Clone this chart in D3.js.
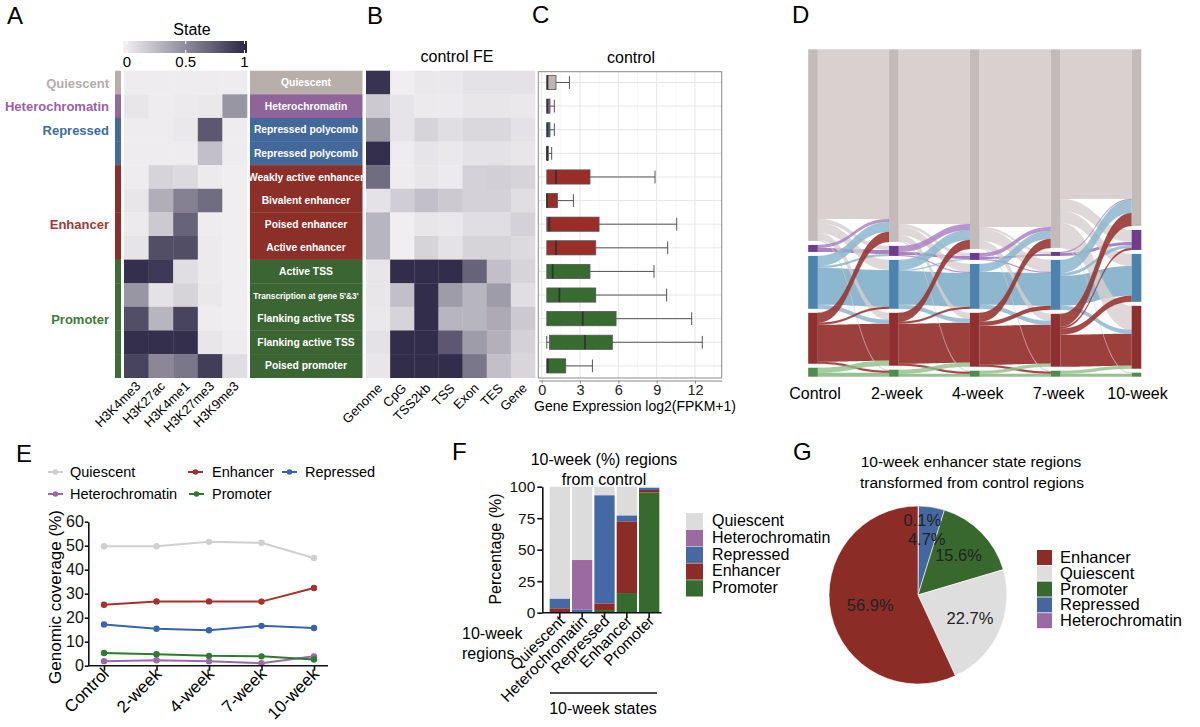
<!DOCTYPE html>
<html><head><meta charset="utf-8">
<script src="https://cdn.jsdelivr.net/npm/d3@7/dist/d3.min.js"></script>
<style>
body{margin:0;background:#fff;}
svg{display:block;font-family:"Liberation Sans",Arial,sans-serif;}
</style>
</head><body>
<svg id="c" width="1200" height="727"></svg>
<script>
// ---------------- DATA ----------------
const groups = ["Quiescent","Heterochromatin","Repressed","Enhancer","Promoter"];
const histoneMarks = ["H3K4me3","H3K27ac","H3K4me1","H3K27me3","H3K9me3"];
const stateNames = ["Quiescent","Heterochromatin","Repressed polycomb","Repressed polycomb",
  "Weakly active enhancer","Bivalent enhancer","Poised enhancer","Active enhancer",
  "Active TSS","Transcription at gene 5'&3'","Flanking active TSS","Flanking active TSS","Poised promoter"];
const stateGroup = [0,1,2,2,3,3,3,3,4,4,4,4,4];
const groupLabelRow = [0,1,2,6,10];
const emissions = [
  [0.03,0.03,0.03,0.03,0.03],
  [0.06,0.03,0.04,0.05,0.45],
  [0.03,0.03,0.05,0.75,0.03],
  [0.03,0.03,0.03,0.25,0.03],
  [0.03,0.15,0.12,0.04,0.02],
  [0.06,0.33,0.55,0.65,0.02],
  [0.04,0.20,0.70,0.03,0.02],
  [0.07,0.80,0.80,0.04,0.02],
  [0.95,0.90,0.10,0.04,0.02],
  [0.45,0.08,0.15,0.05,0.02],
  [0.80,0.30,0.85,0.03,0.02],
  [0.95,0.95,0.95,0.06,0.03],
  [0.85,0.52,0.60,0.88,0.10]
];
const colorbarTicks = [0,0.5,1];
const featureNames = ["Genome","CpG","TSS2kb","TSS","Exon","TES","Gene"];
const foldEnrichment = [
  [0.93,0.02,0.05,0.05,0.08,0.08,0.08],
  [0.20,0.07,0.04,0.04,0.06,0.06,0.05],
  [0.45,0.07,0.15,0.10,0.13,0.13,0.08],
  [0.95,0.03,0.07,0.05,0.08,0.08,0.06],
  [0.65,0.03,0.06,0.04,0.16,0.17,0.15],
  [0.08,0.18,0.25,0.20,0.16,0.16,0.10],
  [0.30,0.02,0.06,0.05,0.10,0.10,0.16],
  [0.30,0.02,0.15,0.08,0.15,0.15,0.12],
  [0.06,0.96,0.96,0.96,0.70,0.25,0.15],
  [0.06,0.25,0.96,0.42,0.30,0.42,0.10],
  [0.05,0.15,0.96,0.30,0.30,0.35,0.20],
  [0.08,0.96,0.96,0.75,0.42,0.32,0.16],
  [0.06,0.96,0.96,0.96,0.60,0.25,0.14]
];
const exprLow    = [0.4,0.4,0.4,0.4,0.4,0.4,0.4,0.4,0.4,0.4,0.4,0.4,0.4];
const exprQ1     = [0.4,0.4,0.4,0.4,0.4,0.4,0.4,0.4,0.4,0.4,0.4,0.62,0.4];
const exprMedian = [0.45,0.45,0.45,0.42,1.12,0.42,0.6,1.12,0.86,1.38,3.21,3.39,0.47];
const exprQ3     = [1.12,0.65,0.65,0.52,3.78,1.23,4.49,4.23,3.78,4.23,5.82,5.53,1.88];
const exprHigh   = [2.17,0.99,0.99,0.78,8.87,2.48,10.57,9.86,8.79,9.78,11.74,12.57,3.97];
const exprTicks  = [0,3,6,9,12];

const timepoints = ["Control","2-week","4-week","7-week","10-week"];
// transitions[k][source][target], states ordered as groups
const transControlTo2wk = [
  [170,4,10,7,1],[3,4,0,0,0],[10,2,37,4,0],[10,0,2,37,2],[0,0,0,5,4]];
const trans2wkTo4wk = [
  [175,3,8,6,1],[6,3,1,0,0],[10,1,34,4,0],[9,0,2,40,2],[0,0,0,4,3]];
const trans4wkTo7wk = [
  [178,2,12,7,1],[4,2,1,0,0],[8,0,33,4,0],[9,0,4,39,2],[0,0,0,3,3]];
const trans7wkTo10wk = [
  [150,12,12,24,1],[1,3,0,0,0],[13,3,30,4,0],[13,2,6,32,0],[0,0,0,3,3]];

const covQuiescent       = [49.8,49.8,51.6,51.2,44.9];
const covEnhancer        = [25.4,26.8,26.8,26.7,32.4];
const covRepressed       = [17.2,15.4,14.8,16.6,15.7];
const covHeterochromatin = [1.9,2.3,1.9,1.0,3.9];
const covPromoter        = [5.3,4.8,4.1,3.9,2.6];
const covTicks = [0,10,20,30,40,50,60];

const tenWeekStates = ["Quiescent","Heterochromatin","Repressed","Enhancer","Promoter"];
const fromPromoter        = [0.5,0.3,2.1,15.6,95.5];
const fromEnhancer        = [3.0,0.3,5.3,56.9,1.9];
const fromRepressed       = [7.5,2.0,85.7,4.7,1.8];
const fromHeterochromatin = [0.3,39.2,0.3,0.1,0.1];
const fromQuiescent       = [88.7,58.2,6.6,22.7,0.7];
const pctTicks = [0,25,50,75,100];

const pieStates = ["Heterochromatin","Repressed","Promoter","Quiescent","Enhancer"];
const pieValues = [0.1,4.7,15.6,22.7,56.9];
const pieLegend = ["Enhancer","Quiescent","Promoter","Repressed","Heterochromatin"];

// ---------------- STYLES ----------------
const stripCol  = {Quiescent:"#b7aeab",Heterochromatin:"#94679f",Repressed:"#4369a0",Enhancer:"#8e2d28",Promoter:"#3b6d35"};
const boxCol    = {Quiescent:"#b8afab",Heterochromatin:"#8f6499",Repressed:"#43699b",Enhancer:"#8c2f29",Promoter:"#3c6534"};
const labelCol  = {Quiescent:"#b3adab",Heterochromatin:"#9a5fa6",Repressed:"#3f68a8",Enhancer:"#a13a35",Promoter:"#3f7a3a"};
const exprCol   = {Quiescent:"#bdb5b2",Heterochromatin:"#9b57a8",Repressed:"#3d6aa6",Enhancer:"#9b2d29",Promoter:"#376b30"};
const nodeCol   = {Quiescent:"#c3bbba",Heterochromatin:"#6e3c8c",Repressed:"#4b83ad",Enhancer:"#8f3030",Promoter:"#4f8a4f"};
const flowCol   = {Quiescent:"#d6cfce",Heterochromatin:"#a67cc0",Repressed:"#86b3cb",Enhancer:"#973634",Promoter:"#8fbf8a"};
const lineCol   = {Quiescent:"#cfcfcf",Enhancer:"#a8302c",Repressed:"#3a63ad",Heterochromatin:"#9a6aa8",Promoter:"#2e7a32"};
const barCol    = {Quiescent:"#dcdcdc",Heterochromatin:"#9a6aa0",Repressed:"#4469a4",Enhancer:"#8d2b26",Promoter:"#356b2f"};
const FONT = "Liberation Sans, Arial, sans-serif";

const svg = d3.select("#c");
function txt(x,y,s,size,opts={}){
  const t = svg.append("text").attr("x",x).attr("y",y).attr("font-size",size).text(s);
  for(const k in opts) t.attr(k,opts[k]);
  return t;
}
// panel letters
[["A",7,24],["B",367,24],["C",532,23],["D",792,23],["E",16,462],["F",452,460],["G",793,460]]
  .forEach(([s,x,y])=>txt(x,y,s,24));

// ---------------- PANEL A ----------------
const heat = d3.scaleLinear().domain([0,1]).range(["#f4f2f4","#2a2543"]);
const rowY = d3.scaleBand().domain(d3.range(stateNames.length)).range([70.7,377.7]);
const hx = d3.scaleBand().domain(histoneMarks).range([124,247]);

const defs = svg.append("defs");
const grad = defs.append("linearGradient").attr("id","cb");
d3.range(0,1.01,0.1).forEach(t=>grad.append("stop").attr("offset",t).attr("stop-color",heat(t)));
const cbx = d3.scaleLinear().domain([0,1]).range([127,244.5]);
svg.append("rect").attr("x",123).attr("y",41).attr("width",124).attr("height",12).attr("fill","url(#cb)");
colorbarTicks.forEach(t=>{
  svg.append("line").attr("x1",cbx(t)).attr("x2",cbx(t)).attr("y1",41).attr("y2",44).attr("stroke","#fff").attr("stroke-width",1);
  svg.append("line").attr("x1",cbx(t)).attr("x2",cbx(t)).attr("y1",50).attr("y2",53).attr("stroke","#fff").attr("stroke-width",1);
  txt(cbx(t),67,String(t),15,{"text-anchor":"middle"});
});
txt(192,35,"State",16,{"text-anchor":"middle"});

svg.append("g").selectAll("rect").data(stateGroup).join("rect")
  .attr("x",115).attr("width",6).attr("y",(d,i)=>rowY(i)).attr("height",rowY.bandwidth()+0.3)
  .attr("fill",d=>stripCol[groups[d]]);
groups.forEach((g,gi)=>{
  txt(109,rowY(groupLabelRow[gi])+rowY.bandwidth()/2+5,g,13,
    {"text-anchor":"end","font-weight":"bold",fill:labelCol[g]});
});
const cellsA = [];
emissions.forEach((r,i)=>r.forEach((v,j)=>cellsA.push({i,j,v})));
svg.append("g").selectAll("rect").data(cellsA).join("rect")
  .attr("x",d=>hx(histoneMarks[d.j])).attr("y",d=>rowY(d.i))
  .attr("width",hx.bandwidth()+0.3).attr("height",rowY.bandwidth()+0.3)
  .attr("fill",d=>heat(d.v));
histoneMarks.forEach(m=>{
  svg.append("text").attr("transform",`translate(${hx(m)+hx.bandwidth()/2+5},387) rotate(-45)`)
    .attr("text-anchor","end").attr("font-size",13).text(m);
});
const gBox = svg.append("g");
stateNames.forEach((s,i)=>{
  const g = groups[stateGroup[i]];
  gBox.append("rect").attr("x",250).attr("width",112.5).attr("y",rowY(i)).attr("height",rowY.bandwidth()+0.3).attr("fill",boxCol[g]);
  gBox.append("text").attr("x",306).attr("y",rowY(i)+rowY.bandwidth()/2+3.6)
    .attr("text-anchor","middle").attr("fill","#fff").attr("font-weight","bold")
    .attr("font-size",s.length>24?8.3:10.3).text(s);
});

// ---------------- PANEL B ----------------
const fx = d3.scaleBand().domain(featureNames).range([366,535]);
const cellsB = [];
foldEnrichment.forEach((r,i)=>r.forEach((v,j)=>cellsB.push({i,j,v})));
svg.append("g").selectAll("rect").data(cellsB).join("rect")
  .attr("x",d=>fx(featureNames[d.j])).attr("y",d=>rowY(d.i))
  .attr("width",fx.bandwidth()+0.3).attr("height",rowY.bandwidth()+0.3)
  .attr("fill",d=>heat(d.v));
featureNames.forEach(f=>{
  svg.append("text").attr("transform",`translate(${fx(f)+fx.bandwidth()/2+5},389) rotate(-45)`)
    .attr("text-anchor","end").attr("font-size",13).text(f);
});
txt(457,62,"control FE",16,{"text-anchor":"middle"});

// ---------------- PANEL C ----------------
const ex = d3.scaleLinear().domain([-0.266,14.09]).range([538.3,721.7]);
const cTop = 71.7, cBot = 378;
svg.append("rect").attr("x",538.3).attr("y",cTop).attr("width",183.4).attr("height",cBot-cTop).attr("fill","#fff");
const gGrid = svg.append("g");
d3.range(1.5,14,3).forEach(v=>gGrid.append("line").attr("x1",ex(v)).attr("x2",ex(v)).attr("y1",cTop).attr("y2",cBot).attr("stroke","#f0f0f0").attr("stroke-width",0.6));
exprTicks.forEach(v=>gGrid.append("line").attr("x1",ex(v)).attr("x2",ex(v)).attr("y1",cTop).attr("y2",cBot).attr("stroke","#e6e6e6").attr("stroke-width",1));
stateNames.forEach((s,i)=>gGrid.append("line").attr("x1",538.3).attr("x2",721.7).attr("y1",rowY(i)+rowY.bandwidth()/2).attr("y2",rowY(i)+rowY.bandwidth()/2).attr("stroke","#e6e6e6").attr("stroke-width",1));
const gBoxes = svg.append("g");
const bh = rowY.bandwidth()*0.6;
stateNames.forEach((s,i)=>{
  const cy = rowY(i)+rowY.bandwidth()/2;
  const col = exprCol[groups[stateGroup[i]]];
  gBoxes.append("line").attr("x1",ex(exprQ3[i])).attr("x2",ex(exprHigh[i])).attr("y1",cy).attr("y2",cy).attr("stroke","#555").attr("stroke-width",1);
  gBoxes.append("line").attr("x1",ex(exprHigh[i])).attr("x2",ex(exprHigh[i])).attr("y1",cy-bh*0.45).attr("y2",cy+bh*0.45).attr("stroke","#555").attr("stroke-width",1);
  if(exprLow[i]<exprQ1[i]){
    gBoxes.append("line").attr("x1",ex(exprLow[i])).attr("x2",ex(exprQ1[i])).attr("y1",cy).attr("y2",cy).attr("stroke","#555");
    gBoxes.append("line").attr("x1",ex(exprLow[i])).attr("x2",ex(exprLow[i])).attr("y1",cy-bh*0.45).attr("y2",cy+bh*0.45).attr("stroke","#555");
  }
  gBoxes.append("rect").attr("x",ex(exprQ1[i])).attr("y",cy-bh/2).attr("width",ex(exprQ3[i])-ex(exprQ1[i])).attr("height",bh)
    .attr("fill",col).attr("stroke","#555").attr("stroke-width",0.8);
  gBoxes.append("line").attr("x1",ex(exprMedian[i])).attr("x2",ex(exprMedian[i])).attr("y1",cy-bh/2).attr("y2",cy+bh/2).attr("stroke","#333").attr("stroke-width",1.8);
});
svg.append("rect").attr("x",538.3).attr("y",cTop).attr("width",183.4).attr("height",cBot-cTop).attr("fill","none").attr("stroke","#8a8a8a").attr("stroke-width",1);
const axC = svg.append("g").attr("transform","translate(0,380.5)")
  .call(d3.axisBottom(ex).tickValues(exprTicks).tickSize(3).tickSizeOuter(0).tickPadding(2));
axC.select(".domain").attr("stroke","#888");
axC.selectAll(".tick line").attr("stroke","#888");
axC.selectAll(".tick text").attr("font-size",14.5).attr("fill","#222").attr("font-family",FONT).attr("dy","0.68em");
txt(635,411,"Gene Expression log2(FPKM+1)",14,{"text-anchor":"middle"});
txt(631,63,"control",16,{"text-anchor":"middle"});

// ---------------- PANEL D (alluvial) ----------------
const transitions = [transControlTo2wk,trans2wkTo4wk,trans4wkTo7wk,trans7wkTo10wk];
const tx = d3.scalePoint().domain(timepoints).range([813,1136.5]);
const nodeW = 9.6, gapD = 4, dTop = 49.3, dBot = 376.7;
const nodeSizes = timepoints.map((t,k)=> k===0
  ? transitions[0].map(r=>d3.sum(r))
  : groups.map((g,j)=>d3.sum(transitions[k-1],r=>r[j])));
const totalD = d3.max(nodeSizes,s=>d3.sum(s));
const uy = d3.scaleLinear().domain([0,totalD]).range([0,dBot-dTop-gapD*4]);
const nodeY = nodeSizes.map(s=>{let y=dTop; return s.map(v=>{const y0=y; y+=uy(v)+gapD; return y0;});});
const areaD = d3.area().curve(d3.curveBumpX).x(d=>d.x).y0(d=>d.y0).y1(d=>d.y1);
const gFlows = svg.append("g");
const selfFlows=[], crossFlows=[];
transitions.forEach((M,k)=>{
  const srcPos = M.map((row,i)=>{let y=nodeY[k][i]; return row.map(v=>{const y0=y; y+=uy(v); return y0;});});
  const tgtPos = groups.map(()=>[]);
  groups.forEach((g,j)=>{let y=nodeY[k+1][j]; M.forEach((row,i)=>{tgtPos[i][j]=y; y+=uy(row[j]);});});
  const x0 = tx(timepoints[k])+nodeW/2, x1 = tx(timepoints[k+1])-nodeW/2;
  M.forEach((row,i)=>row.forEach((v,j)=>{
    if(v<=0) return;
    const h = uy(v);
    const f = {src:groups[i],pts:[{x:x0,y0:srcPos[i][j],y1:srcPos[i][j]+h},{x:x1,y0:tgtPos[i][j],y1:tgtPos[i][j]+h}]};
    (i===j?selfFlows:crossFlows).push(f);
  }));
});
gFlows.selectAll("path.self").data(selfFlows).join("path").attr("class","self")
  .attr("d",d=>areaD(d.pts)).attr("fill",d=>flowCol[d.src]).attr("fill-opacity",0.95);
gFlows.selectAll("path.cross").data(crossFlows).join("path").attr("class","cross")
  .attr("d",d=>areaD(d.pts)).attr("fill",d=>flowCol[d.src])
  .attr("fill-opacity",d=>d.src==="Enhancer"?0.9:0.8)
  .attr("stroke",d=>flowCol[d.src]).attr("stroke-opacity",0.4).attr("stroke-width",0.5);
const gNodes = svg.append("g");
timepoints.forEach((t,k)=>{
  groups.forEach((g,j)=>{
    gNodes.append("rect").attr("x",tx(t)-nodeW/2).attr("width",nodeW)
      .attr("y",nodeY[k][j]).attr("height",uy(nodeSizes[k][j])).attr("fill",nodeCol[g]);
  });
  txt(tx(t)+(k===0?2:k===4?1:3),399,t,16,{"text-anchor":"middle"});
});

// ---------------- PANEL E ----------------
const exE = d3.scalePoint().domain(timepoints).range([104,314]);
const eyE = d3.scaleLinear().domain([0,60]).range([665.7,521.7]);
const coverage = [
  ["Quiescent",covQuiescent],["Enhancer",covEnhancer],["Repressed",covRepressed],
  ["Heterochromatin",covHeterochromatin],["Promoter",covPromoter]];
const lineE = d3.line().x((d,i)=>exE(timepoints[i])).y(d=>eyE(d));
coverage.forEach(([name,vals])=>{
  svg.append("path").attr("d",lineE(vals)).attr("fill","none").attr("stroke",lineCol[name]).attr("stroke-width",2);
  svg.append("g").selectAll("circle").data(vals).join("circle")
    .attr("cx",(d,i)=>exE(timepoints[i])).attr("cy",d=>eyE(d)).attr("r",3.2).attr("fill",lineCol[name]);
});
const axEy = svg.append("g").attr("transform","translate(88.3,0)")
  .call(d3.axisLeft(eyE).tickValues(covTicks).tickSize(3.5).tickSizeOuter(0).tickPadding(1));
const axEx = svg.append("g").attr("transform","translate(0,665.7)")
  .call(d3.axisBottom(exE).tickSize(5).tickSizeOuter(0).tickFormat(""));
axEx.select(".domain").attr("d","M88.3,0H328");
[axEy,axEx].forEach(a=>{a.selectAll("path,line").attr("stroke","#111").attr("stroke-width",1.6);});
axEy.selectAll(".tick text").attr("font-size",16).attr("fill","#111").attr("font-family",FONT);
timepoints.forEach(t=>{
  svg.append("text").attr("transform",`translate(${exE(t)+6},675) rotate(-45)`)
    .attr("text-anchor","end").attr("font-size",17).text(t);
});
svg.append("text").attr("transform","translate(61,597) rotate(-90)").attr("text-anchor","middle").attr("font-size",17).text("Genomic coverage (%)");
const legE = [["Quiescent",48,472,70],["Enhancer",188,472,212],["Repressed",282,472,305],
              ["Heterochromatin",48,494,70],["Promoter",189,494,212]];
legE.forEach(([n,x,y,tx2])=>{
  svg.append("line").attr("x1",x).attr("x2",x+15).attr("y1",y).attr("y2",y).attr("stroke",lineCol[n]).attr("stroke-width",2);
  svg.append("circle").attr("cx",x+7.5).attr("cy",y).attr("r",2.8).attr("fill",lineCol[n]);
  txt(tx2,y+5,n,14.5);
});

// ---------------- PANEL F ----------------
const fxB = d3.scaleBand().domain(tenWeekStates).range([549,660]).paddingInner(0.09).paddingOuter(0.03);
const fyB = d3.scaleLinear().domain([0,100]).range([612.7,486.7]);
const stackKeys = ["Promoter","Enhancer","Repressed","Heterochromatin","Quiescent"];
const stackSrc = {Promoter:fromPromoter,Enhancer:fromEnhancer,Repressed:fromRepressed,Heterochromatin:fromHeterochromatin,Quiescent:fromQuiescent};
const tableF = tenWeekStates.map((s,i)=>{const o={state:s}; stackKeys.forEach(k=>o[k]=stackSrc[k][i]); return o;});
const series = d3.stack().keys(stackKeys)(tableF);
svg.append("g").selectAll("g").data(series).join("g").attr("fill",d=>barCol[d.key])
  .selectAll("rect").data(d=>d).join("rect")
  .attr("x",d=>fxB(d.data.state)).attr("width",fxB.bandwidth())
  .attr("y",d=>fyB(d[1])).attr("height",d=>Math.max(0,fyB(d[0])-fyB(d[1])));
const axFy = svg.append("g").attr("transform","translate(542.3,0)")
  .call(d3.axisLeft(fyB).tickValues(pctTicks).tickSize(5).tickSizeOuter(0).tickPadding(2));
const axFx = svg.append("g").attr("transform","translate(0,612.7)")
  .call(d3.axisBottom(fxB).tickSize(5).tickSizeOuter(0).tickFormat(""));
axFx.select(".domain").attr("d","M542.3,0H661.5");
[axFy,axFx].forEach(a=>{a.selectAll("path,line").attr("stroke","#111").attr("stroke-width",1.6);});
axFy.selectAll(".tick text").attr("font-size",15.5).attr("fill","#111").attr("font-family",FONT);
tenWeekStates.forEach(s=>{
  svg.append("text").attr("transform",`translate(${fxB(s)+fxB.bandwidth()/2+6},622) rotate(-45)`)
    .attr("text-anchor","end").attr("font-size",15.5).text(s);
});
svg.append("text").attr("transform","translate(501,549) rotate(-90)").attr("text-anchor","middle").attr("font-size",16).text("Percentage (%)");
txt(604,465,"10-week (%) regions",16,{"text-anchor":"middle"});
txt(604,485,"from control",16,{"text-anchor":"middle"});
txt(462,639,"10-week",16);
txt(462,659,"regions",16);
svg.append("line").attr("x1",550).attr("x2",657).attr("y1",693).attr("y2",693).attr("stroke","#111").attr("stroke-width",1.6);
txt(603,714,"10-week states",16,{"text-anchor":"middle"});
const legFOrder = ["Quiescent","Heterochromatin","Repressed","Enhancer","Promoter"];
legFOrder.forEach((n,i)=>{
  svg.append("rect").attr("x",686).attr("y",513+i*16.8).attr("width",17).attr("height",16.3).attr("fill",barCol[n]);
  txt(712,526+i*16.8,n,16);
});

// ---------------- PANEL G ----------------
const pieCol = {Enhancer:"#8b2c27",Quiescent:"#dedede",Promoter:"#39682f",Repressed:"#4467a0",Heterochromatin:"#9b6aa3"};
const pieData = d3.pie().sort(null).value(d=>d.v)(pieStates.map((s,i)=>({s,v:pieValues[i]})));
const R = 89, pcx = 918, pcy = 595;
const arc = d3.arc().innerRadius(0).outerRadius(R);
const gPie = svg.append("g").attr("transform",`translate(${pcx},${pcy})`);
gPie.selectAll("path").data(pieData).join("path").attr("d",arc).attr("fill",d=>pieCol[d.data.s])
  .attr("stroke","#fff").attr("stroke-width",0.6);
gPie.selectAll("text").data(pieData).join("text")
  .attr("transform",d=>{
    const a=(d.startAngle+d.endAngle)/2; const r = d.data.v<1? R*0.84 : (d.data.v>50? R*0.55 : R*0.64);
    return `translate(${Math.sin(a)*r+(d.data.v<1?4:0)},${-Math.cos(a)*r})`;})
  .attr("text-anchor","middle").attr("dy","0.36em").attr("font-size",16.5).attr("fill","#222")
  .text(d=>d.data.v.toFixed(1)+"%");
txt(971,467,"10-week enhancer state regions",15.5,{"text-anchor":"middle"});
txt(972,488,"transformed from control regions",15.5,{"text-anchor":"middle"});
pieLegend.forEach((n,i)=>{
  svg.append("rect").attr("x",1037).attr("y",550+i*15.8).attr("width",15).attr("height",15).attr("fill",pieCol[n]);
  txt(1060,563+i*15.8,n,16.5);
});
</script>
</body></html>
